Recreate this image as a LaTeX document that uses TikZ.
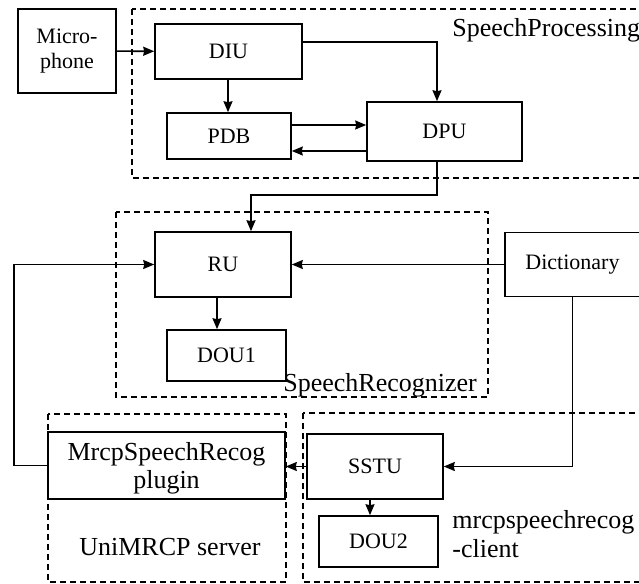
\documentclass[tikz,border=0pt]{standalone}
\usepackage{fontspec}
\setmainfont{Liberation Serif}
\usetikzlibrary{shapes.geometric, arrows.meta}
\tikzstyle{block} = [rectangle, 
inner sep=0pt, 
text centered, 
align=center, 
draw=black, 
thick, 
font=\fontsize{11}{12.5}\selectfont]
\tikzstyle{module} = [draw=black, 
line width=0.55pt, 
dash pattern=on 3pt off 2pt]
\tikzstyle{modlabel} = [inner sep=0pt, 
font=\fontsize{13}{14.5}\selectfont]
\tikzstyle{arrow} = [thick,->,>={Stealth[length=5.5pt,width=4.5pt,inset=0.5pt]}]

\begin{document}
\begin{tikzpicture}[x=0.5pt, y=-0.5pt]
\useasboundingbox (0,0) rectangle (639,584);
\clip (0,0) rectangle (639,584);

\draw [module] (132,9) rectangle (660,178);
\draw [module] (116,212) rectangle (488,397);
\draw [module] (48,414) rectangle (286,582);
\draw [module] (303,413) rectangle (660,582);

\node (mic) [block, minimum width=49pt, minimum height=42pt] at (67,51) {Micro-\\phone};
\node (diu) [block, minimum width=73.5pt, minimum height=27.5pt] at (228.5,51.5) {DIU};
\node (pdb) [block, minimum width=62pt, minimum height=23pt] at (229,136) {PDB};
\node (dpu) [block, minimum width=77.5pt, minimum height=29.5pt] at (444.5,131.5) {DPU};
\node (ru) [block, minimum width=68pt, minimum height=32.5pt] at (223,264.5) {RU};
\node (dou1) [block, minimum width=59.5pt, minimum height=25.5pt] at (226.5,355.5) {DOU1};
\node (dict) [block, minimum width=67.5pt, minimum height=32pt] at (572.5,264.5) {Dictionary};
\node (mrcp) [block, minimum width=118.5pt, minimum height=33.5pt, text depth=-4pt, font=\fontsize{13}{14}\selectfont] at (166.5,465.5) {MrcpSpeechRecog\\plugin};
\node (sstu) [block, minimum width=68pt, minimum height=32.5pt] at (375,466.5) {SSTU};
\node (dou2) [block, minimum width=59.5pt, minimum height=25.5pt] at (378.5,541.5) {DOU2};

\node (splabel) [modlabel, anchor=base west] at (452,36) {SpeechProcessing};
\node (srlabel) [modlabel, anchor=base west] at (283,391) {SpeechRecognizer};
\node (srvlabel) [modlabel, anchor=base] at (170,555) {UniMRCP server};
\node (clilabel) [modlabel, anchor=west, align=left] at (452,534) {mrcpspeechrecog\\-client};

\draw [arrow] (mic) -- (diu);
\draw [arrow] (diu.south -| 228,0) -- (pdb.north -| 228,0);
\draw [arrow] (diu.east |- 0,42) -| (dpu.north -| 437,0);
\draw [arrow] (pdb.east |- 0,125) -- (dpu.west |- 0,125);
\draw [arrow] (dpu.west |- 0,151) -- (pdb.east |- 0,151);
\draw [arrow] (dpu.south -| 437,0) |- (251,195) -- (ru.north -| 251,0);
\draw [arrow] (dict) -- (ru);
\draw [arrow] (ru.south -| 217,0) -- (dou1.north -| 217,0);
\draw [arrow] (dict.south) |- (sstu.east);
\draw [arrow] (sstu.west) -- (sstu.west -| mrcp.east);
\draw [arrow] (sstu.south -| 370,0) -- (dou2.north -| 370,0);
\draw [arrow] (mrcp.west) -- (14,465.5) |- (ru.west);
\end{tikzpicture}
\end{document}
